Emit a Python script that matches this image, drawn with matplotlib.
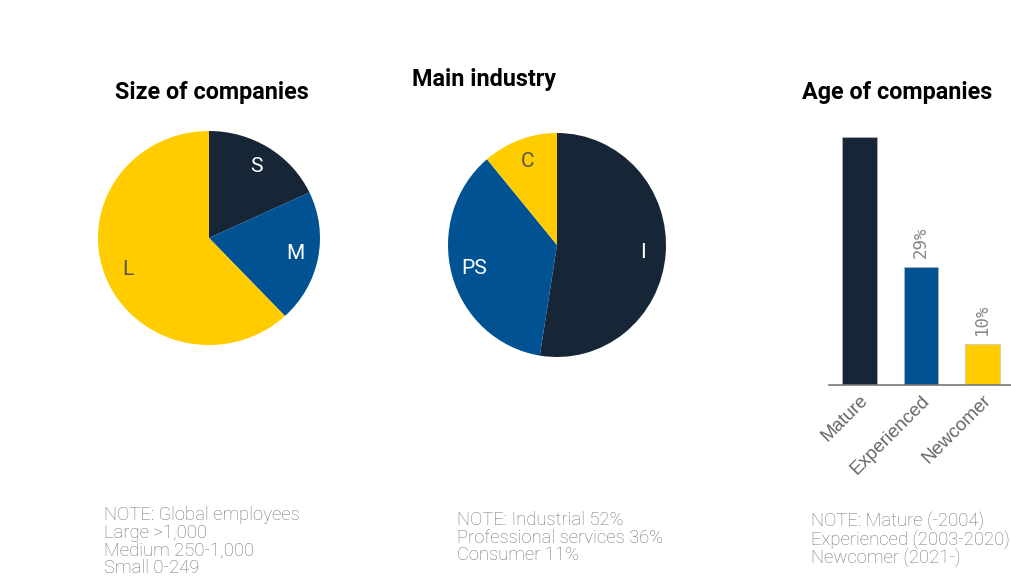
import matplotlib
matplotlib.use("Agg")
import matplotlib.pyplot as plt

NAVY = "#172637"
BLUE = "#005293"
YELLOW = "#FFCC00"

# company size split (%), clockwise from 12 o'clock
size_labels = ["S", "M", "L"]
size_values = [18, 20, 62]
size_colors = [NAVY, BLUE, YELLOW]
size_text = ["white", "white", "#555555"]

# main industry split (%)
ind_labels = ["I", "PS", "C"]
ind_values = [52, 36, 11]
ind_colors = [NAVY, BLUE, YELLOW]
ind_text = ["white", "white", "#555555"]

# age of companies (%)
age_cats = ["Mature", "Experienced", "Newcomer"]
age_values = [61, 29, 10]
age_colors = [NAVY, BLUE, YELLOW]
age_shown = [False, True, True]

W, H = 1012, 577
fig = plt.figure(figsize=(W / 100, H / 100), dpi=100)
fig.patch.set_facecolor("white")


def px_axes(left, top, width, height):
    return fig.add_axes([left / W, 1 - (top + height) / H, width / W, height / H])


def draw_pie(ax, values, colors, labels, text_colors, label_r):
    wedges, texts = ax.pie(values, colors=colors, startangle=90, counterclock=False,
                           labels=labels, labeldistance=label_r,
                           wedgeprops=dict(linewidth=0))
    for t, c in zip(texts, text_colors):
        t.set_color(c)
        t.set_fontsize(15)
        t.set_family("Roboto")
        t.set_ha("center")
        t.set_va("center")
    ax.set_xlim(-1, 1)
    ax.set_ylim(-1, 1)
    ax.set_aspect("auto")
    ax.axis("off")


ax1 = px_axes(98, 131, 222, 214)
draw_pie(ax1, size_values, size_colors, size_labels, size_text, 0.79)

ax2 = px_axes(448, 133, 218, 224)
draw_pie(ax2, ind_values, ind_colors, ind_labels, ind_text, 0.79)

# bar chart
ax3 = px_axes(829, 121, 184, 264)
bars = ax3.bar(range(len(age_cats)), age_values, width=0.57, color=age_colors,
               edgecolor="#bbbbbb", linewidth=0.4)
for b, v, show in zip(bars, age_values, age_shown):
    if show:
        ax3.text(b.get_x() + b.get_width() / 2, v + 2.3, f"{v}%", rotation=90,
                 ha="center", va="bottom", fontsize=12.5, color="#888888",
                 family="DejaVu Sans Mono")
ax3.set_xlim(-0.5, 2.5)
ax3.set_ylim(0, 65)
ax3.set_xticks(range(len(age_cats)))
ax3.set_xticklabels(age_cats, rotation=45, ha="right", rotation_mode="anchor",
                    fontsize=13.5, color="#666666", family="Liberation Sans")
ax3.tick_params(axis="x", length=0, pad=5)
ax3.set_yticks([])
for s in ["top", "right", "left"]:
    ax3.spines[s].set_visible(False)
ax3.spines["bottom"].set_color("#777777")
ax3.spines["bottom"].set_linewidth(1.2)

# titles
title_kw = dict(fontsize=16.8, fontweight="bold", family="Roboto", color="black",
                ha="center", va="center")
fig.text(212 / W, 1 - 93 / H, "Size of companies", **title_kw)
fig.text(484 / W, 1 - 80 / H, "Main industry", **title_kw)
fig.text(897 / W, 1 - 93 / H, "Age of companies", **title_kw)

# notes
note_kw = dict(fontsize=13.3, family="Roboto", fontweight="light", color="#737373",
               ha="left", va="top", linespacing=0.98)
fig.text(104 / W, 1 - 506 / H,
         "NOTE: Global employees\nLarge >1,000\nMedium 250-1,000\nSmall 0-249", **note_kw)
fig.text(457 / W, 1 - 511 / H,
         "NOTE: Industrial 52%\nProfessional services 36%\nConsumer 11%", **note_kw)
fig.text(811 / W, 1 - 511 / H,
         "NOTE: Mature (-2004)\nExperienced (2003-2020)\nNewcomer (2021-)", **note_kw)

fig.savefig("out.png", dpi=100, facecolor="white")
